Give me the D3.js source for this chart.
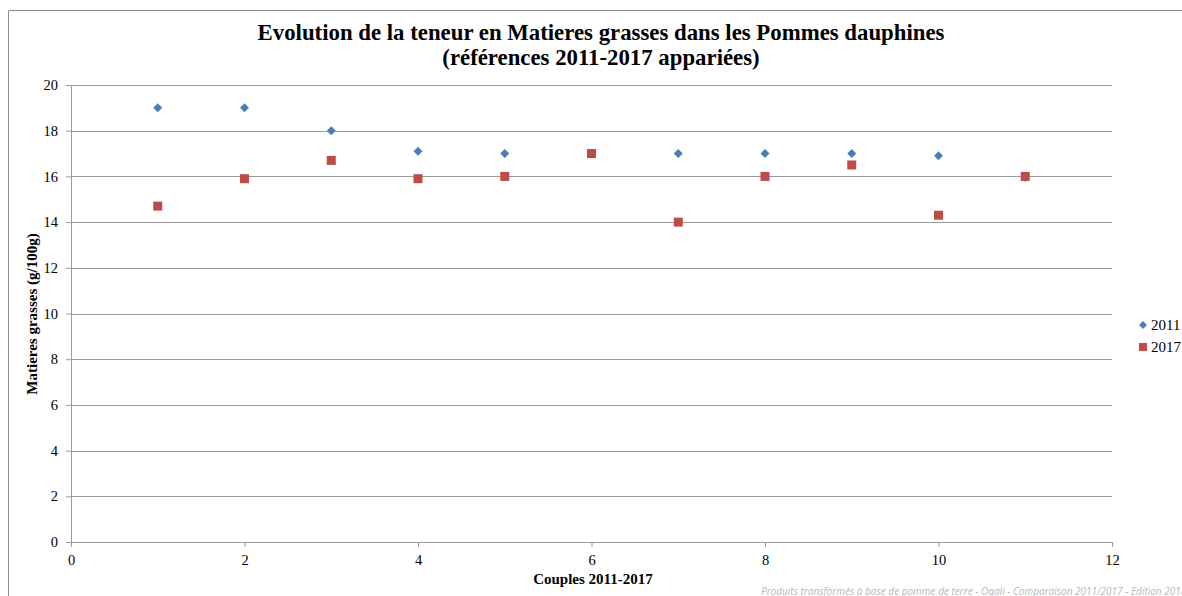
<!DOCTYPE html>
<html>
<head>
<meta charset="utf-8">
<script src="https://cdn.jsdelivr.net/npm/d3@7"></script>
<style>
  body { margin: 0; background: #fff; }
  svg text { font-family: "Liberation Serif", "DejaVu Serif", serif; }
</style>
</head>
<body>
<div id="chart"></div>
<script>
const couples = [1, 2, 3, 4, 5, 6, 7, 8, 9, 10, 11];
const values2011 = [19, 19, 18, 17.1, 17, 17, 17, 17, 17, 16.9, 15.95];
const values2017 = [14.7, 15.9, 16.7, 15.9, 16, 17, 14, 16, 16.5, 14.3, 16];
const xTicks = [0, 2, 4, 6, 8, 10, 12];
const yTicks = [0, 2, 4, 6, 8, 10, 12, 14, 16, 18, 20];
const seriesNames = ["2011", "2017"];
const colors = ["#4a7ebb", "#be4b48"];

const W = 1182, H = 596;
const margin = {top: 85, right: 70, bottom: 54, left: 71};
const width = 1112 - margin.left;
const height = 542 - margin.top;

const svg = d3.select("#chart").append("svg")
    .attr("width", W)
    .attr("height", H);

// chart area border
svg.append("path")
    .attr("d", "M8.5," + H + "V10.5H" + W)
    .attr("fill", "none")
    .attr("stroke", "#8c8c8c")
    .attr("stroke-width", 1);

const g = svg.append("g")
    .attr("transform", "translate(" + margin.left + "," + margin.top + ")");

const xScale = d3.scaleLinear().domain([0, 12]).range([0, width]);
const yScale = d3.scaleLinear().domain([0, 20]).range([height, 0]);

// gridlines
g.append("g")
    .selectAll("line")
    .data(yTicks.slice(1))
    .enter().append("line")
    .attr("x1", 0)
    .attr("x2", width)
    .attr("y1", (d) => Math.round(yScale(d)) + 0.5)
    .attr("y2", (d) => Math.round(yScale(d)) + 0.5)
    .attr("stroke", "#9a9a9a");

// axes
const yAxis = g.append("g")
    .call(d3.axisLeft(yScale).tickValues(yTicks).tickSize(5).tickPadding(8));
const xAxis = g.append("g")
    .attr("transform", "translate(0," + height + ")")
    .call(d3.axisBottom(xScale).tickValues(xTicks).tickSize(5).tickPadding(8));

[xAxis, yAxis].forEach((ax) => {
    ax.select(".domain").attr("stroke", "#9a9a9a");
    ax.selectAll(".tick line").attr("stroke", "#9a9a9a");
    ax.selectAll("text")
        .attr("fill", "#000")
        .style("font-family", "'Liberation Serif', serif")
        .style("font-size", "14.5px");
});

// points
const diamond = d3.symbol().type(d3.symbolDiamond2).size(52);
g.append("g")
    .selectAll("path")
    .data(couples)
    .enter().append("path")
    .attr("d", diamond)
    .attr("transform", (d, i) => "translate(" + xScale(d) + "," + yScale(values2011[i]) + ")")
    .attr("fill", colors[0]);

g.append("g")
    .selectAll("rect")
    .data(couples)
    .enter().append("rect")
    .attr("x", (d) => xScale(d) - 4.5)
    .attr("y", (d, i) => yScale(values2017[i]) - 4.5)
    .attr("width", 9)
    .attr("height", 9)
    .attr("fill", colors[1]);

// title
svg.append("text")
    .attr("x", 601)
    .attr("y", 40)
    .attr("text-anchor", "middle")
    .style("font-size", "22.8px")
    .style("font-weight", "bold")
    .text("Evolution de la teneur en Matieres grasses dans les Pommes dauphines");
svg.append("text")
    .attr("x", 601)
    .attr("y", 65)
    .attr("text-anchor", "middle")
    .style("font-size", "22.8px")
    .style("font-weight", "bold")
    .text("(références 2011-2017 appariées)");

// axis titles
svg.append("text")
    .attr("x", 593)
    .attr("y", 584)
    .attr("text-anchor", "middle")
    .style("font-size", "15px")
    .style("font-weight", "bold")
    .text("Couples 2011-2017");
svg.append("text")
    .attr("transform", "translate(37,314) rotate(-90)")
    .attr("text-anchor", "middle")
    .style("font-size", "15px")
    .style("font-weight", "bold")
    .text("Matieres grasses (g/100g)");

// legend
const legend = svg.append("g")
    .attr("transform", "translate(1143,325)");
legend.append("path")
    .attr("d", d3.symbol().type(d3.symbolDiamond2).size(40))
    .attr("fill", colors[0]);
legend.append("rect")
    .attr("x", -4)
    .attr("y", 18)
    .attr("width", 8)
    .attr("height", 8)
    .attr("fill", colors[1]);
legend.selectAll("text")
    .data(seriesNames)
    .enter().append("text")
    .attr("x", 8)
    .attr("y", (d, i) => i * 22 + 5)
    .style("font-size", "15px")
    .text((d) => d);

// footer (runs past the right edge, as in the original)
svg.append("text")
    .attr("x", 761)
    .attr("y", 595)
    .style("font-family", "'Open Sans', sans-serif")
    .style("font-style", "italic")
    .style("font-size", "10px")
    .attr("fill", "#b8b8b8")
    .text("Produits transformés à base de pomme de terre - Oqali - Comparaison 2011/2017 - Edition 2018");
</script>
</body>
</html>
